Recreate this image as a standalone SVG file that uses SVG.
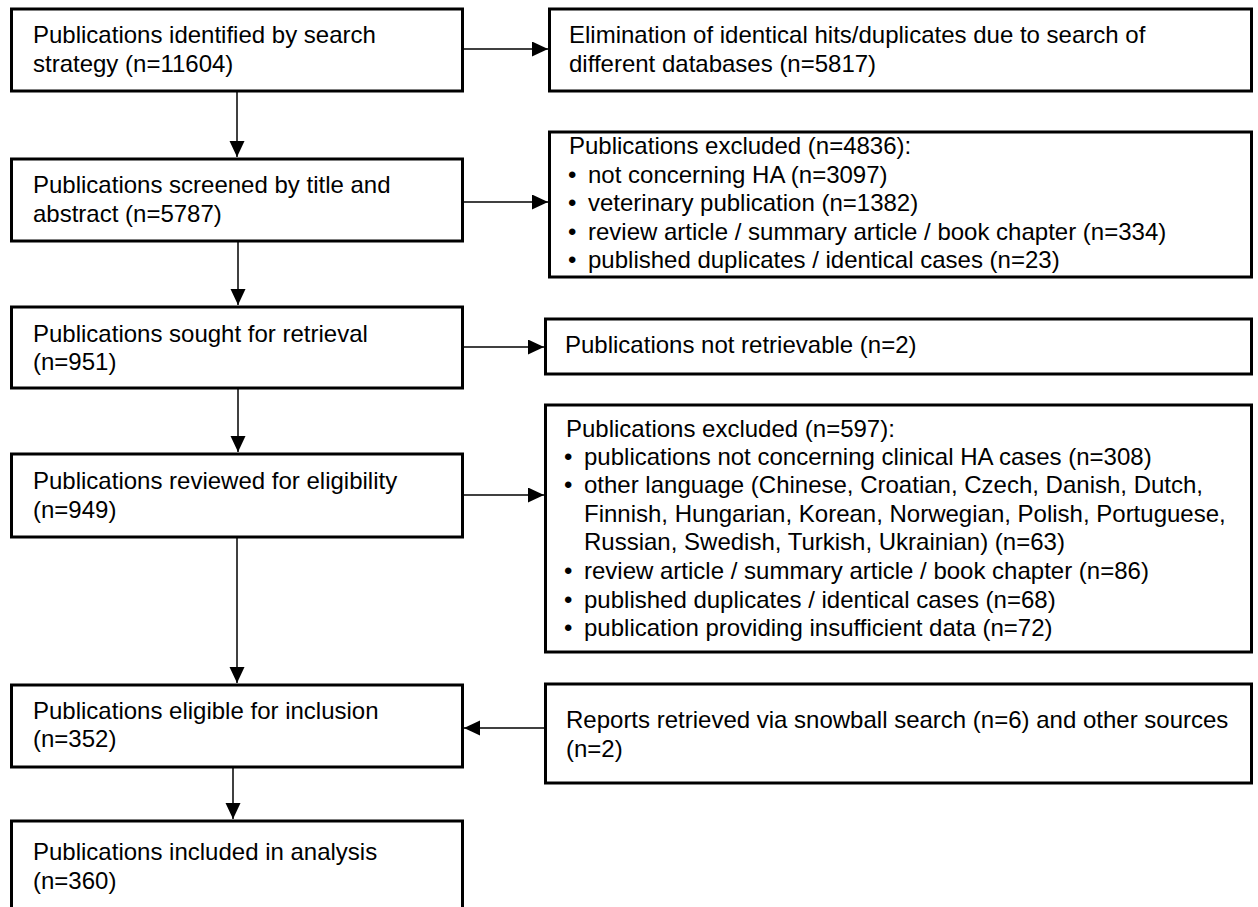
<svg xmlns="http://www.w3.org/2000/svg" width="1258" height="907" viewBox="0 0 1258 907">
<style>
.box{fill:#fff;stroke:#000;stroke-width:3}
.t{font-family:"Liberation Sans",Arial,Helvetica,sans-serif;font-size:24px;fill:#000}
.c{fill:none;stroke:#000;stroke-width:1.5}
</style>
<defs>
<marker id="ah" markerUnits="userSpaceOnUse" markerWidth="16" markerHeight="16" refX="16" refY="7.5" orient="auto">
<path d="M0,0 L16,7.5 L0,15 z" fill="#000"/>
</marker>
</defs>
<rect width="1258" height="907" fill="#fff"/>
<g id="connectors">
<line class="c" x1="463" y1="49" x2="548" y2="49" marker-end="url(#ah)"/>
<line class="c" x1="463" y1="202" x2="548" y2="202" marker-end="url(#ah)"/>
<line class="c" x1="463" y1="347" x2="544" y2="347" marker-end="url(#ah)"/>
<line class="c" x1="463" y1="495" x2="544" y2="495" marker-end="url(#ah)"/>
<line class="c" x1="545" y1="728" x2="464" y2="728" marker-end="url(#ah)"/>
<line class="c" x1="237" y1="91" x2="237" y2="157" marker-end="url(#ah)"/>
<line class="c" x1="238" y1="242" x2="238" y2="305" marker-end="url(#ah)"/>
<line class="c" x1="238" y1="388" x2="238" y2="452" marker-end="url(#ah)"/>
<line class="c" x1="237" y1="538" x2="237" y2="683" marker-end="url(#ah)"/>
<line class="c" x1="233" y1="767" x2="233" y2="819" marker-end="url(#ah)"/>
</g>
<g id="n1">
<rect class="box" x="11.5" y="9" width="451" height="82"/>
<text class="t" x="33" y="43">Publications identified by search</text>
<text class="t" x="33" y="72">strategy (n=11604)</text>
</g>
<g id="n2">
<rect class="box" x="11.5" y="159" width="451" height="82"/>
<text class="t" x="33" y="193">Publications screened by title and</text>
<text class="t" x="33" y="222">abstract (n=5787)</text>
</g>
<g id="n3">
<rect class="box" x="11.5" y="307" width="451" height="81"/>
<text class="t" x="33" y="342">Publications sought for retrieval</text>
<text class="t" x="33" y="370">(n=951)</text>
</g>
<g id="n4">
<rect class="box" x="11.5" y="454" width="451" height="83"/>
<text class="t" x="33" y="489">Publications reviewed for eligibility</text>
<text class="t" x="33" y="518">(n=949)</text>
</g>
<g id="n5">
<rect class="box" x="11.5" y="685" width="451" height="82"/>
<text class="t" x="33" y="719">Publications eligible for inclusion</text>
<text class="t" x="33" y="747">(n=352)</text>
</g>
<g id="n6">
<rect class="box" x="11.5" y="821" width="451" height="100"/>
<text class="t" x="33" y="860">Publications included in analysis</text>
<text class="t" x="33" y="889">(n=360)</text>
</g>
<g id="r1">
<rect class="box" x="549.5" y="9" width="702" height="82"/>
<text class="t" x="569" y="43">Elimination of identical hits/duplicates due to search of</text>
<text class="t" x="569" y="72">different databases (n=5817)</text>
</g>
<g id="r2">
<rect class="box" x="549.5" y="132" width="702" height="145"/>
<text class="t" x="569" y="154">Publications excluded (n=4836):</text>
<text class="t" x="568" y="183">•</text><text class="t" x="588" y="183">not concerning HA (n=3097)</text>
<text class="t" x="568" y="211">•</text><text class="t" x="588" y="211">veterinary publication (n=1382)</text>
<text class="t" x="568" y="240">•</text><text class="t" x="588" y="240">review article / summary article / book chapter (n=334)</text>
<text class="t" x="568" y="268">•</text><text class="t" x="588" y="268">published duplicates / identical cases (n=23)</text>
</g>
<g id="r3">
<rect class="box" x="545.5" y="319" width="706" height="55"/>
<text class="t" x="565" y="353">Publications not retrievable (n=2)</text>
</g>
<g id="r4">
<rect class="box" x="545.5" y="405" width="706" height="247"/>
<text class="t" x="566" y="437">Publications excluded (n=597):</text>
<text class="t" x="564" y="465">•</text><text class="t" x="584" y="465">publications not concerning clinical HA cases (n=308)</text>
<text class="t" x="564" y="493">•</text><text class="t" x="584" y="493">other language (Chinese, Croatian, Czech, Danish, Dutch,</text>
<text class="t" x="584" y="522">Finnish, Hungarian, Korean, Norwegian, Polish, Portuguese,</text>
<text class="t" x="584" y="550">Russian, Swedish, Turkish, Ukrainian) (n=63)</text>
<text class="t" x="564" y="579">•</text><text class="t" x="584" y="579">review article / summary article / book chapter (n=86)</text>
<text class="t" x="564" y="608">•</text><text class="t" x="584" y="608">published duplicates / identical cases (n=68)</text>
<text class="t" x="564" y="636">•</text><text class="t" x="584" y="636">publication providing insufficient data (n=72)</text>
</g>
<g id="r5">
<rect class="box" x="545.5" y="684" width="706" height="99"/>
<text class="t" x="566" y="728">Reports retrieved via snowball search (n=6) and other sources</text>
<text class="t" x="566" y="757">(n=2)</text>
</g>
</svg>
